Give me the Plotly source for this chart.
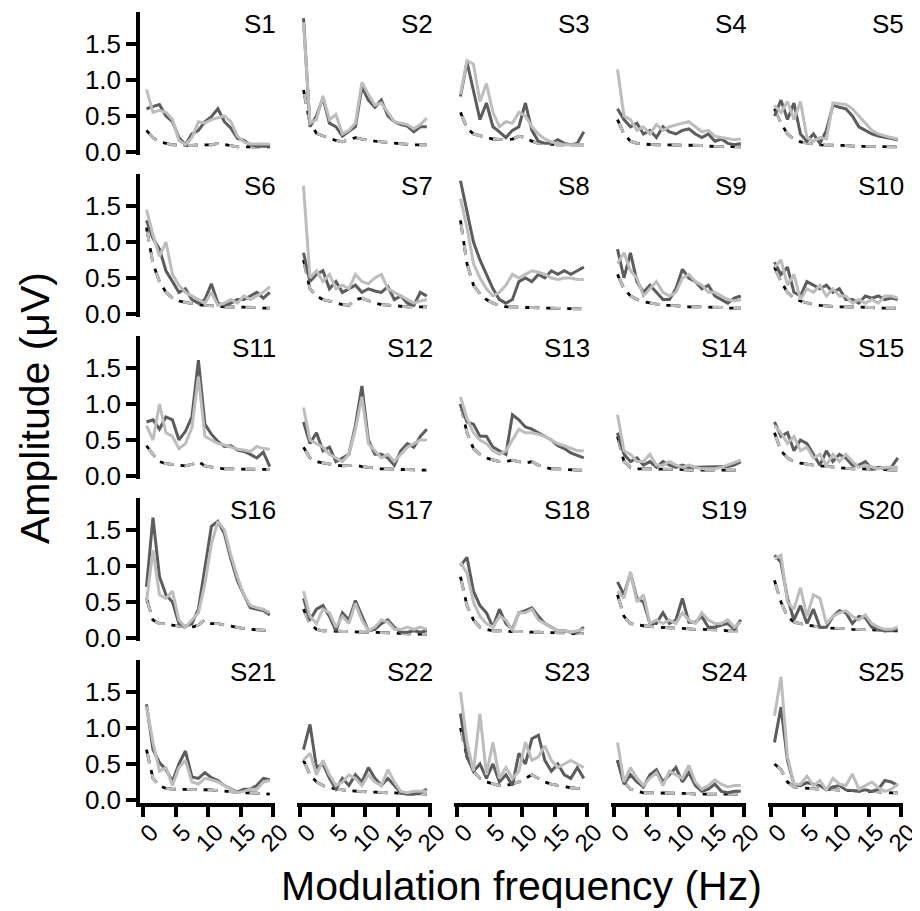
import plotly.graph_objects as go

# ---------------- data ----------------
freqs = [0.5, 1.5, 2.5, 3.5, 4.5, 5.5, 6.5, 7.5, 8.5, 9.5,
         10.5, 11.5, 12.5, 13.5, 14.5, 15.5, 16.5, 17.5, 18.5, 19.5]
x_ticks = [0, 5, 10, 15, 20]
y_ticks = [0.0, 0.5, 1.0, 1.5]
y_tick_text = ["0.0", "0.5", "1.0", "1.5"]
subjects = ["S%d" % k for k in range(1, 26)]

s1_dark = [0.6, 0.63, 0.66, 0.5, 0.42, 0.2, 0.1, 0.25, 0.3, 0.42, 0.49, 0.6, 0.42, 0.33, 0.19, 0.16, 0.1, 0.08, 0.08, 0.08]
s1_light = [0.87, 0.55, 0.58, 0.55, 0.45, 0.16, 0.1, 0.2, 0.42, 0.4, 0.45, 0.48, 0.5, 0.42, 0.22, 0.14, 0.11, 0.11, 0.11, 0.11]
s1_noise = [0.3, 0.2, 0.14, 0.12, 0.1, 0.1, 0.09, 0.09, 0.1, 0.1, 0.1, 0.12, 0.1, 0.08, 0.07, 0.07, 0.07, 0.07, 0.07, 0.07]

s2_dark = [1.86, 0.35, 0.5, 0.75, 0.4, 0.35, 0.22, 0.28, 0.35, 0.9, 0.72, 0.62, 0.72, 0.5, 0.42, 0.38, 0.36, 0.28, 0.35, 0.35]
s2_light = [1.8, 0.4, 0.45, 0.78, 0.45, 0.52, 0.25, 0.3, 0.4, 0.97, 0.8, 0.65, 0.68, 0.55, 0.42, 0.4, 0.38, 0.32, 0.38, 0.47]
s2_noise = [0.86, 0.4, 0.26, 0.22, 0.19, 0.16, 0.14, 0.17, 0.2, 0.18, 0.16, 0.15, 0.14, 0.13, 0.12, 0.11, 0.11, 0.1, 0.1, 0.1]

s3_dark = [0.77, 1.25, 0.85, 0.45, 0.68, 0.35, 0.28, 0.2, 0.3, 0.35, 0.68, 0.3, 0.15, 0.12, 0.12, 0.17, 0.12, 0.1, 0.12, 0.28]
s3_light = [0.8, 1.27, 1.22, 0.7, 0.95, 0.55, 0.35, 0.42, 0.4, 0.55, 0.5, 0.35, 0.25, 0.18, 0.14, 0.12, 0.1, 0.1, 0.1, 0.1]
s3_noise = [0.55, 0.33, 0.25, 0.22, 0.2, 0.18, 0.17, 0.17, 0.18, 0.22, 0.2, 0.15, 0.12, 0.11, 0.1, 0.1, 0.1, 0.1, 0.1, 0.1]

s4_dark = [0.6, 0.45, 0.35, 0.4, 0.25, 0.3, 0.2, 0.35, 0.28, 0.25, 0.3, 0.32, 0.25, 0.2, 0.25, 0.15, 0.18, 0.12, 0.1, 0.12]
s4_light = [1.15, 0.5, 0.45, 0.3, 0.35, 0.25, 0.38, 0.3, 0.35, 0.38, 0.4, 0.42, 0.35, 0.28, 0.3, 0.22, 0.2, 0.18, 0.17, 0.18]
s4_noise = [0.45, 0.25, 0.15, 0.12, 0.11, 0.1, 0.1, 0.1, 0.1, 0.1, 0.1, 0.09, 0.09, 0.09, 0.08, 0.08, 0.08, 0.07, 0.07, 0.07]

s5_dark = [0.5, 0.72, 0.45, 0.68, 0.25, 0.15, 0.25, 0.12, 0.3, 0.65, 0.62, 0.6, 0.5, 0.35, 0.3, 0.25, 0.22, 0.2, 0.18, 0.17]
s5_light = [0.65, 0.55, 0.7, 0.45, 0.7, 0.2, 0.15, 0.2, 0.18, 0.68, 0.67, 0.66, 0.6, 0.5, 0.4, 0.3, 0.25, 0.22, 0.2, 0.18]
s5_noise = [0.6, 0.4, 0.25, 0.18, 0.14, 0.12, 0.11, 0.1, 0.1, 0.1, 0.09, 0.09, 0.08, 0.08, 0.08, 0.08, 0.07, 0.07, 0.07, 0.07]

s6_dark = [1.3, 1.05, 0.9, 0.6, 0.45, 0.3, 0.35, 0.2, 0.15, 0.2, 0.42, 0.15, 0.12, 0.15, 0.2, 0.2, 0.25, 0.3, 0.22, 0.3]
s6_light = [1.45, 1.1, 0.8, 1.0, 0.55, 0.4, 0.3, 0.25, 0.2, 0.15, 0.3, 0.12, 0.15, 0.2, 0.15, 0.25, 0.2, 0.25, 0.3, 0.38]
s6_noise = [1.2, 0.7, 0.45, 0.3, 0.22, 0.18, 0.16, 0.14, 0.13, 0.12, 0.12, 0.11, 0.1, 0.1, 0.1, 0.09, 0.09, 0.09, 0.08, 0.08]

s7_dark = [0.85, 0.45, 0.55, 0.6, 0.35, 0.45, 0.3, 0.35, 0.4, 0.3, 0.35, 0.32, 0.3, 0.38, 0.2, 0.25, 0.15, 0.12, 0.3, 0.25]
s7_light = [1.78, 0.5, 0.6, 0.45, 0.55, 0.35, 0.4, 0.35, 0.55, 0.45, 0.42, 0.5, 0.55, 0.35, 0.3, 0.25, 0.2, 0.15, 0.18, 0.2]
s7_noise = [0.75, 0.35, 0.25, 0.2, 0.18, 0.15, 0.13, 0.12, 0.2, 0.22, 0.18, 0.15, 0.13, 0.12, 0.11, 0.1, 0.1, 0.1, 0.1, 0.1]

s8_dark = [1.85, 1.4, 1.0, 0.75, 0.55, 0.35, 0.2, 0.15, 0.2, 0.45, 0.5, 0.45, 0.55, 0.5, 0.6, 0.55, 0.6, 0.55, 0.6, 0.65]
s8_light = [1.6, 1.2, 0.7, 0.5, 0.35, 0.25, 0.3, 0.4, 0.55, 0.5, 0.55, 0.6, 0.58, 0.55, 0.5, 0.48, 0.5, 0.5, 0.48, 0.48]
s8_noise = [1.3, 0.7, 0.4, 0.28, 0.2, 0.15, 0.12, 0.1, 0.1, 0.09, 0.09, 0.09, 0.08, 0.08, 0.08, 0.08, 0.08, 0.07, 0.07, 0.07]

s9_dark = [0.9, 0.5, 0.85, 0.45, 0.3, 0.4, 0.3, 0.2, 0.2, 0.35, 0.62, 0.5, 0.45, 0.35, 0.4, 0.25, 0.2, 0.15, 0.22, 0.25]
s9_light = [0.7, 0.85, 0.6, 0.5, 0.25, 0.35, 0.45, 0.3, 0.25, 0.3, 0.5, 0.55, 0.45, 0.4, 0.3, 0.3, 0.25, 0.2, 0.18, 0.2]
s9_noise = [0.55, 0.35, 0.25, 0.2, 0.17, 0.15, 0.13, 0.12, 0.12, 0.11, 0.11, 0.1, 0.1, 0.1, 0.09, 0.09, 0.09, 0.08, 0.08, 0.08]

s10_dark = [0.72, 0.55, 0.65, 0.3, 0.25, 0.45, 0.4, 0.35, 0.4, 0.3, 0.35, 0.2, 0.2, 0.15, 0.25, 0.22, 0.25, 0.2, 0.22, 0.2]
s10_light = [0.65, 0.75, 0.4, 0.55, 0.2, 0.35, 0.3, 0.4, 0.25, 0.35, 0.25, 0.25, 0.15, 0.2, 0.15, 0.2, 0.15, 0.25, 0.25, 0.22]
s10_noise = [0.65, 0.45, 0.3, 0.22, 0.18, 0.15, 0.13, 0.12, 0.11, 0.11, 0.1, 0.1, 0.1, 0.09, 0.09, 0.09, 0.08, 0.08, 0.08, 0.08]

s11_dark = [0.75, 0.78, 0.65, 0.82, 0.78, 0.5, 0.62, 0.82, 1.61, 0.72, 0.58, 0.48, 0.41, 0.42, 0.36, 0.34, 0.3, 0.25, 0.33, 0.13]
s11_light = [0.7, 0.5, 1.0, 0.6, 0.55, 0.38, 0.45, 0.67, 1.38, 0.55, 0.5, 0.45, 0.43, 0.4, 0.37, 0.36, 0.34, 0.41, 0.38, 0.37]
s11_noise = [0.42, 0.3, 0.2, 0.17, 0.16, 0.15, 0.14, 0.16, 0.2, 0.14, 0.12, 0.11, 0.1, 0.1, 0.1, 0.1, 0.09, 0.09, 0.09, 0.09]

s12_dark = [0.75, 0.45, 0.6, 0.35, 0.4, 0.2, 0.25, 0.3, 0.7, 1.25, 0.5, 0.3, 0.3, 0.25, 0.15, 0.35, 0.45, 0.4, 0.55, 0.65]
s12_light = [0.95, 0.5, 0.45, 0.4, 0.3, 0.25, 0.2, 0.3, 0.65, 1.1, 0.45, 0.35, 0.25, 0.3, 0.2, 0.3, 0.4, 0.45, 0.5, 0.5]
s12_noise = [0.4, 0.25, 0.2, 0.18, 0.16, 0.15, 0.14, 0.14, 0.15, 0.13, 0.12, 0.1, 0.1, 0.1, 0.09, 0.09, 0.09, 0.08, 0.08, 0.08]

s13_dark = [1.0, 0.75, 0.72, 0.55, 0.55, 0.4, 0.35, 0.3, 0.85, 0.78, 0.68, 0.65, 0.6, 0.55, 0.5, 0.42, 0.38, 0.32, 0.28, 0.25]
s13_light = [1.1, 0.8, 0.6, 0.5, 0.45, 0.35, 0.3, 0.35, 0.5, 0.65, 0.6, 0.6, 0.58, 0.55, 0.5, 0.45, 0.42, 0.38, 0.35, 0.35]
s13_noise = [1.0, 0.6, 0.38, 0.3, 0.25, 0.22, 0.2, 0.2, 0.22, 0.2, 0.18, 0.2, 0.15, 0.12, 0.1, 0.1, 0.09, 0.09, 0.08, 0.08]

s14_dark = [0.6, 0.3, 0.2, 0.25, 0.15, 0.2, 0.12, 0.2, 0.15, 0.12, 0.15, 0.12, 0.12, 0.12, 0.12, 0.12, 0.12, 0.13, 0.15, 0.2]
s14_light = [0.85, 0.35, 0.3, 0.2, 0.2, 0.3, 0.15, 0.15, 0.2, 0.15, 0.12, 0.15, 0.12, 0.1, 0.1, 0.1, 0.12, 0.15, 0.18, 0.22]
s14_noise = [0.55, 0.2, 0.12, 0.1, 0.1, 0.1, 0.09, 0.09, 0.09, 0.09, 0.09, 0.08, 0.08, 0.08, 0.08, 0.08, 0.08, 0.08, 0.08, 0.08]

s15_dark = [0.75, 0.55, 0.6, 0.35, 0.5, 0.45, 0.3, 0.15, 0.35, 0.2, 0.3, 0.25, 0.15, 0.15, 0.2, 0.1, 0.12, 0.1, 0.12, 0.25]
s15_light = [0.7, 0.6, 0.45, 0.55, 0.35, 0.4, 0.25, 0.3, 0.15, 0.3, 0.2, 0.3, 0.2, 0.12, 0.15, 0.12, 0.1, 0.12, 0.12, 0.12]
s15_noise = [0.6, 0.35, 0.25, 0.2, 0.18, 0.16, 0.15, 0.14, 0.13, 0.12, 0.12, 0.11, 0.1, 0.1, 0.1, 0.09, 0.09, 0.09, 0.08, 0.08]

s16_dark = [0.71, 1.67, 0.85, 0.6, 0.5, 0.2, 0.16, 0.2, 0.4, 1.0, 1.55, 1.62, 1.45, 1.1, 0.8, 0.6, 0.42, 0.4, 0.38, 0.32]
s16_light = [0.5, 1.22, 0.6, 0.55, 0.65, 0.25, 0.15, 0.25, 0.35, 0.75, 1.3, 1.62, 1.5, 1.15, 0.85, 0.6, 0.45, 0.42, 0.4, 0.35]
s16_noise = [0.55, 0.25, 0.2, 0.2, 0.18, 0.16, 0.15, 0.15, 0.18, 0.25, 0.2, 0.2, 0.18, 0.17, 0.15, 0.13, 0.12, 0.11, 0.1, 0.1]

s17_dark = [0.55, 0.25, 0.4, 0.45, 0.3, 0.1, 0.35, 0.25, 0.52, 0.3, 0.1, 0.12, 0.2, 0.25, 0.15, 0.08, 0.08, 0.1, 0.08, 0.1]
s17_light = [0.65, 0.3, 0.2, 0.4, 0.35, 0.15, 0.3, 0.2, 0.48, 0.25, 0.1, 0.15, 0.25, 0.22, 0.12, 0.12, 0.15, 0.12, 0.15, 0.12]
s17_noise = [0.4, 0.2, 0.12, 0.1, 0.1, 0.09, 0.09, 0.09, 0.08, 0.08, 0.08, 0.08, 0.07, 0.07, 0.07, 0.06, 0.06, 0.06, 0.05, 0.05]

s18_dark = [1.0, 1.12, 0.65, 0.45, 0.35, 0.15, 0.4, 0.2, 0.12, 0.35, 0.38, 0.42, 0.3, 0.2, 0.15, 0.1, 0.1, 0.08, 0.08, 0.15]
s18_light = [1.05, 0.9, 0.5, 0.3, 0.2, 0.15, 0.3, 0.25, 0.1, 0.35, 0.35, 0.4, 0.25, 0.2, 0.15, 0.1, 0.1, 0.08, 0.1, 0.12]
s18_noise = [0.85, 0.45, 0.25, 0.15, 0.12, 0.1, 0.1, 0.09, 0.09, 0.09, 0.08, 0.08, 0.08, 0.08, 0.07, 0.07, 0.07, 0.06, 0.06, 0.06]

s19_dark = [0.78, 0.6, 0.9, 0.55, 0.5, 0.2, 0.2, 0.35, 0.2, 0.25, 0.55, 0.22, 0.22, 0.3, 0.15, 0.15, 0.18, 0.2, 0.12, 0.25]
s19_light = [0.65, 0.55, 0.92, 0.5, 0.6, 0.2, 0.25, 0.2, 0.25, 0.2, 0.35, 0.25, 0.2, 0.35, 0.25, 0.2, 0.2, 0.25, 0.15, 0.22]
s19_noise = [0.6, 0.3, 0.2, 0.18, 0.17, 0.16, 0.15, 0.15, 0.14, 0.14, 0.13, 0.13, 0.12, 0.12, 0.12, 0.11, 0.11, 0.1, 0.1, 0.1]

s20_dark = [1.15, 1.05, 0.55, 0.25, 0.45, 0.2, 0.4, 0.15, 0.15, 0.3, 0.38, 0.35, 0.2, 0.3, 0.28, 0.15, 0.12, 0.1, 0.1, 0.12]
s20_light = [1.1, 1.15, 0.5, 0.4, 0.7, 0.3, 0.6, 0.55, 0.2, 0.3, 0.35, 0.38, 0.3, 0.25, 0.32, 0.2, 0.15, 0.12, 0.12, 0.15]
s20_noise = [0.8, 0.5, 0.3, 0.22, 0.2, 0.18, 0.16, 0.15, 0.14, 0.14, 0.13, 0.13, 0.12, 0.12, 0.12, 0.11, 0.11, 0.1, 0.1, 0.1]

s21_dark = [1.33, 0.7, 0.52, 0.42, 0.26, 0.5, 0.68, 0.32, 0.3, 0.38, 0.31, 0.27, 0.2, 0.15, 0.11, 0.15, 0.15, 0.2, 0.3, 0.28]
s21_light = [1.3, 0.8, 0.4, 0.45, 0.2, 0.45, 0.55, 0.25, 0.22, 0.3, 0.28, 0.25, 0.2, 0.15, 0.1, 0.12, 0.15, 0.15, 0.25, 0.27]
s21_noise = [0.7, 0.3, 0.2, 0.16, 0.15, 0.15, 0.14, 0.14, 0.14, 0.14, 0.14, 0.13, 0.12, 0.11, 0.1, 0.1, 0.1, 0.1, 0.09, 0.08]

s22_dark = [0.7, 1.05, 0.45, 0.5, 0.3, 0.15, 0.3, 0.2, 0.35, 0.25, 0.45, 0.3, 0.2, 0.3, 0.2, 0.1, 0.08, 0.08, 0.1, 0.15]
s22_light = [0.55, 0.65, 0.35, 0.55, 0.35, 0.2, 0.25, 0.35, 0.3, 0.2, 0.35, 0.25, 0.2, 0.42, 0.25, 0.12, 0.1, 0.12, 0.12, 0.12]
s22_noise = [0.55, 0.35, 0.25, 0.2, 0.17, 0.15, 0.14, 0.13, 0.12, 0.12, 0.11, 0.11, 0.1, 0.1, 0.1, 0.09, 0.09, 0.09, 0.08, 0.08]

s23_dark = [1.2, 0.6, 0.4, 0.5, 0.3, 0.5, 0.25, 0.35, 0.2, 0.65, 0.5, 0.85, 0.9, 0.55, 0.4, 0.5, 0.35, 0.3, 0.45, 0.3]
s23_light = [1.5, 0.8, 0.4, 1.2, 0.35, 0.8, 0.3, 0.45, 0.3, 0.4, 0.8, 0.55, 0.6, 0.75, 0.55, 0.45, 0.5, 0.55, 0.5, 0.45]
s23_noise = [1.0, 0.6, 0.4, 0.3, 0.25, 0.22, 0.2, 0.2, 0.22, 0.25, 0.3, 0.35, 0.3, 0.25, 0.22, 0.2, 0.18, 0.17, 0.16, 0.15]

s24_dark = [0.55, 0.22, 0.35, 0.25, 0.18, 0.35, 0.42, 0.25, 0.35, 0.45, 0.25, 0.38, 0.2, 0.12, 0.15, 0.22, 0.12, 0.1, 0.12, 0.12]
s24_light = [0.8, 0.25, 0.45, 0.3, 0.2, 0.3, 0.38, 0.2, 0.4, 0.35, 0.3, 0.48, 0.25, 0.15, 0.2, 0.28, 0.22, 0.18, 0.2, 0.2]
s24_noise = [0.55, 0.25, 0.15, 0.12, 0.1, 0.1, 0.1, 0.09, 0.09, 0.09, 0.09, 0.09, 0.08, 0.08, 0.08, 0.08, 0.08, 0.08, 0.08, 0.08]

s25_dark = [0.8, 1.29, 0.55, 0.22, 0.2, 0.24, 0.22, 0.2, 0.14, 0.18, 0.2, 0.14, 0.13, 0.12, 0.14, 0.12, 0.15, 0.27, 0.25, 0.2]
s25_light = [1.17, 1.71, 0.6, 0.22, 0.22, 0.33, 0.2, 0.27, 0.14, 0.3, 0.22, 0.2, 0.36, 0.15, 0.2, 0.25, 0.17, 0.12, 0.15, 0.22]
s25_noise = [0.5, 0.42, 0.25, 0.18, 0.17, 0.16, 0.15, 0.15, 0.15, 0.14, 0.14, 0.13, 0.13, 0.12, 0.12, 0.12, 0.11, 0.11, 0.1, 0.1]

dark_series = [s1_dark, s2_dark, s3_dark, s4_dark, s5_dark, s6_dark, s7_dark, s8_dark, s9_dark, s10_dark,
               s11_dark, s12_dark, s13_dark, s14_dark, s15_dark, s16_dark, s17_dark, s18_dark, s19_dark, s20_dark,
               s21_dark, s22_dark, s23_dark, s24_dark, s25_dark]
light_series = [s1_light, s2_light, s3_light, s4_light, s5_light, s6_light, s7_light, s8_light, s9_light, s10_light,
                s11_light, s12_light, s13_light, s14_light, s15_light, s16_light, s17_light, s18_light, s19_light, s20_light,
                s21_light, s22_light, s23_light, s24_light, s25_light]
noise_series = [s1_noise, s2_noise, s3_noise, s4_noise, s5_noise, s6_noise, s7_noise, s8_noise, s9_noise, s10_noise,
                s11_noise, s12_noise, s13_noise, s14_noise, s15_noise, s16_noise, s17_noise, s18_noise, s19_noise, s20_noise,
                s21_noise, s22_noise, s23_noise, s24_noise, s25_noise]

# ---------------- layout geometry (screen pixels) ----------------
OFF = 8                      # page body margin of the browser
W, H = 920 - OFF, 911 - OFF  # figure size so that it fills the window


def px(xp):
    return (xp - OFF) / W


def py(yp):
    return 1 - (yp - OFF) / H


COL_LEFT, COL_W, COL_STEP = 140, 135, 157
ROW_TOP, ROW_H, ROW_STEP = 12, 143, 162

DARK = "#5c5c5c"
LIGHT = "#bdbdbd"
FONT = "Arial, Liberation Sans, Helvetica, sans-serif"

fig = go.Figure()
layout = dict(
    width=W, height=H,
    margin=dict(l=0, r=0, t=0, b=0, autoexpand=False),
    paper_bgcolor="white", plot_bgcolor="white",
    showlegend=False,
    font=dict(family=FONT, color="black"),
)
annotations = []

for i in range(25):
    r, c = divmod(i, 5)
    n = i + 1
    xref = "x" if n == 1 else "x%d" % n
    yref = "y" if n == 1 else "y%d" % n

    # noise floor (two dashed lines overlapped)
    fig.add_trace(go.Scatter(x=freqs, y=noise_series[i], mode="lines", xaxis=xref, yaxis=yref,
                             line=dict(color="black", width=2.8, dash="14px,7px")))
    fig.add_trace(go.Scatter(x=freqs, y=noise_series[i], mode="lines", xaxis=xref, yaxis=yref,
                             line=dict(color=LIGHT, width=2.8, dash="0px,4px,10px,7px")))
    # responses
    fig.add_trace(go.Scatter(x=freqs, y=dark_series[i], mode="lines", xaxis=xref, yaxis=yref,
                             line=dict(color=DARK, width=3)))
    fig.add_trace(go.Scatter(x=freqs, y=light_series[i], mode="lines", xaxis=xref, yaxis=yref,
                             line=dict(color=LIGHT, width=3)))

    x0 = COL_LEFT + c * COL_STEP
    y0 = ROW_TOP + r * ROW_STEP
    xdom = [px(x0), px(x0 + COL_W)]
    ydom = [py(y0 + ROW_H), py(y0)]

    bottom = (r == 4)
    left = (c == 0)
    xkey = "xaxis" if n == 1 else "xaxis%d" % n
    ykey = "yaxis" if n == 1 else "yaxis%d" % n
    layout[xkey] = dict(
        domain=xdom, range=[-0.5, 20.3], anchor=yref, automargin=False,
        showgrid=False, zeroline=False,
        showline=bottom, linecolor="black", linewidth=3.5,
        ticks="outside" if bottom else "", ticklen=10, tickwidth=3.5, tickcolor="black",
        tickvals=x_ticks, showticklabels=bottom, tickangle=-45,
        ticklabelshift=8, ticklabelstandoff=-8, ticklabeloverflow="allow",
        tickfont=dict(size=24, family=FONT, color="black"),
    )
    layout[ykey] = dict(
        domain=ydom, range=[-0.042, 1.944], anchor=xref, automargin=False,
        showgrid=False, zeroline=False,
        showline=left, linecolor="black", linewidth=3.5,
        ticks="outside" if left else "", ticklen=10, tickwidth=3.5, tickcolor="black",
        tickvals=y_ticks, ticktext=y_tick_text, showticklabels=left,
        tickfont=dict(size=26, family=FONT, color="black"),
    )
    annotations.append(dict(
        text=subjects[i], xref="paper", yref="paper",
        x=px(x0 + COL_W + 3), y=py(y0 + 12),
        xanchor="right", yanchor="middle", showarrow=False,
        font=dict(size=26, family=FONT, color="black"),
    ))

annotations.append(dict(
    text="Amplitude (μV)", xref="paper", yref="paper",
    x=px(35), y=py(408), textangle=-90,
    xanchor="center", yanchor="middle", showarrow=False,
    font=dict(size=41, family=FONT, color="black"),
))
annotations.append(dict(
    text="Modulation frequency (Hz)", xref="paper", yref="paper",
    x=px(521), y=py(886),
    xanchor="center", yanchor="middle", showarrow=False,
    font=dict(size=41, family=FONT, color="black"),
))
layout["annotations"] = annotations
fig.update_layout(**layout)

fig.write_html("out.html")
